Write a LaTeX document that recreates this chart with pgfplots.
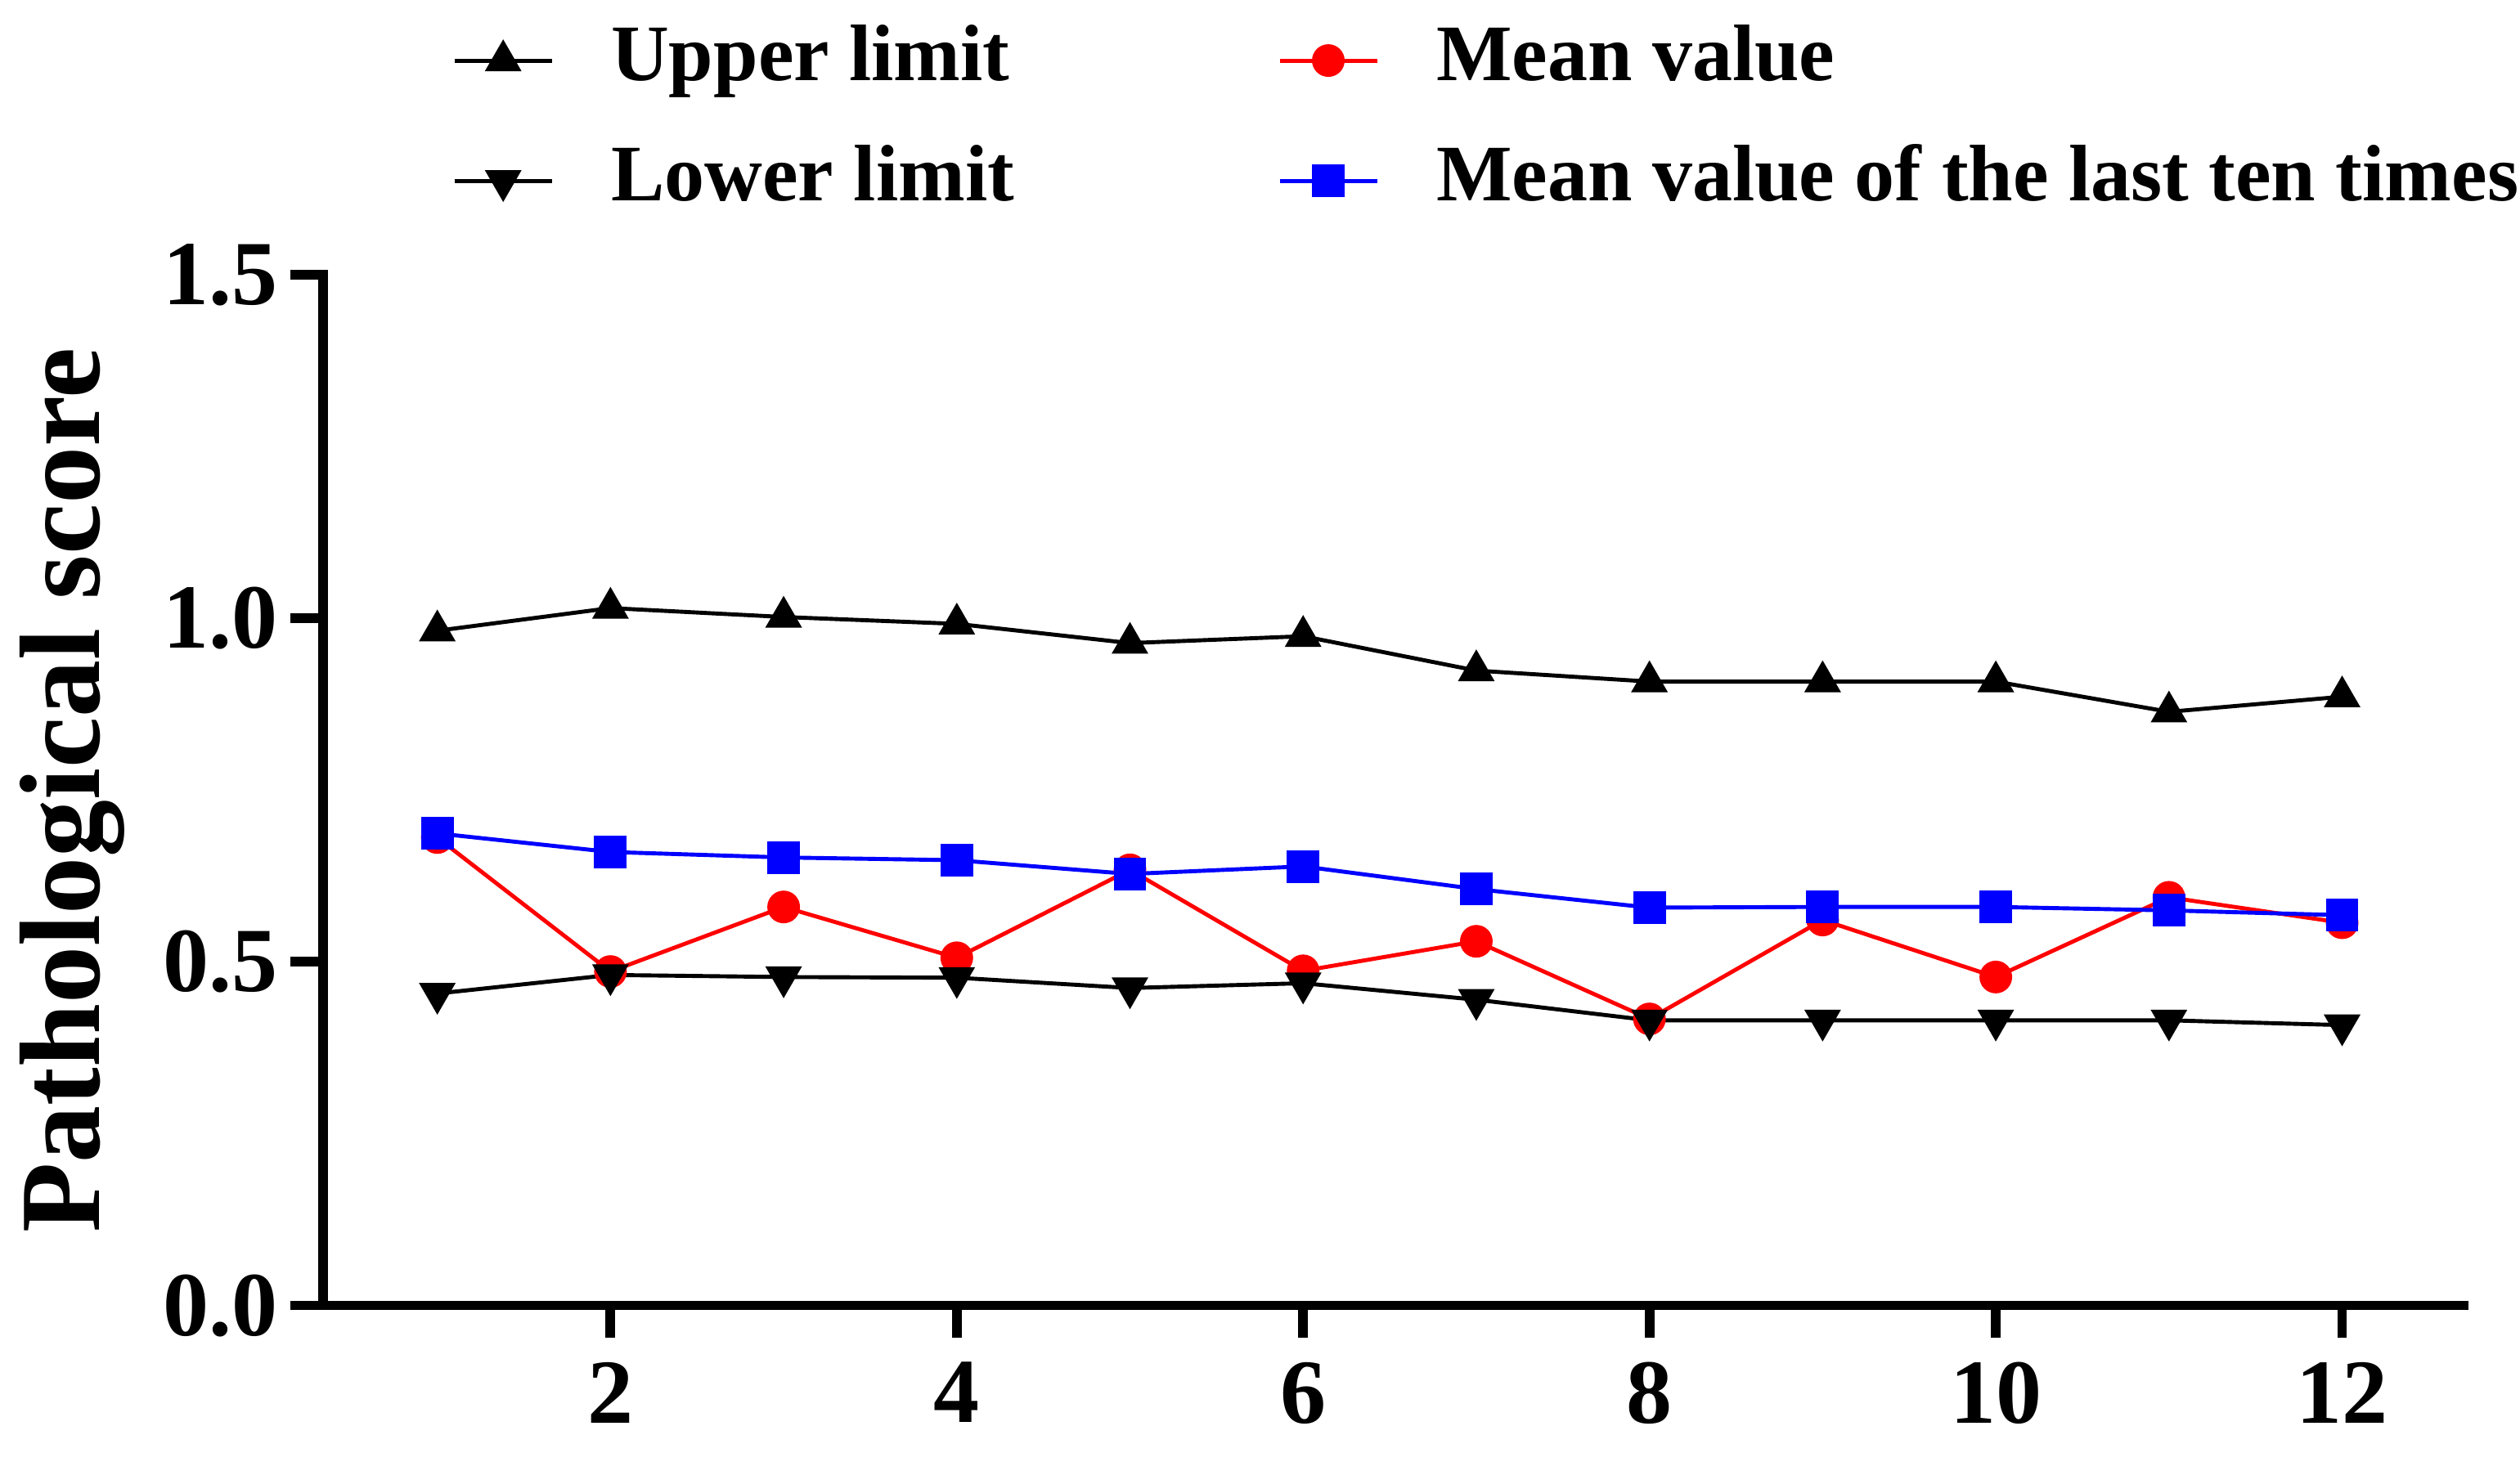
\documentclass[border=0pt]{standalone}
\usepackage{fontspec}
\setmainfont{Liberation Serif}
\usepackage{pgfplots}
\pgfplotsset{compat=1.18}
\definecolor{pred}{RGB}{255,0,0}
\definecolor{pblue}{RGB}{0,0,255}
\begin{document}
\begin{tikzpicture}
\begin{axis}[
  scale only axis,
  width=373.7pt, height=180pt,
  xmin=0.34, xmax=12.7,
  ymin=0, ymax=1.5,
  xtick={2,4,6,8,10,12},
  ytick={0,0.5,1,1.5},
  axis x line*=bottom, axis y line*=left,
  axis line style={line width=1.7pt, -, line cap=rect},
  tick align=outside,
  major tick length=5.7pt,
  major tick style={line width=1.7pt, black},
  /pgf/number format/assume math mode=true,
  yticklabel style={/pgf/number format/.cd, fixed, fixed zerofill, precision=1, /tikz/.cd, inner sep=2pt},
  xticklabel style={inner sep=4pt},
  ticklabel style={font=\bfseries\fontsize{16}{16}\selectfont},
  ylabel={Pathological score},
  ylabel style={font=\bfseries\fontsize{20}{20}\selectfont, at={(axis description cs:-0.117,0.5)}, anchor=center},
  legend columns=2,
  legend cell align=left,
  legend style={
    at={(0.0605,1.244)}, anchor=north west, draw=none, fill=none,
    inner sep=0pt, outer sep=0pt,
    font=\bfseries\fontsize{14}{14}\selectfont,
    row sep=8pt,
    nodes={inner sep=0pt, text height=10pt, text depth=3pt, anchor=west},
    /tikz/every odd column/.append style={column sep=10pt},
    /tikz/every even column/.append style={column sep=46pt},
  },
  legend image code/.code={
    \draw[mark repeat=2, mark phase=2, #1] plot coordinates {(0pt,0pt) (8.5pt,0pt) (17pt,0pt)};
  },
]
\addplot[black, line width=0.7pt, mark=triangle*, mark size=3pt, mark options={solid}] coordinates {
(1,0.982) (2,1.015) (3,1.002) (4,0.992) (5,0.964) (6,0.974) (7,0.924) (8,0.908) (9,0.908) (10,0.908) (11,0.864) (12,0.886)};
\addlegendentry{Upper limit}
\addplot[pred, line width=0.7pt, mark=*, mark size=2.5pt, mark options={solid, fill=pred, draw=pred}] coordinates {
(1,0.681) (2,0.486) (3,0.580) (4,0.506) (5,0.634) (6,0.487) (7,0.530) (8,0.417) (9,0.561) (10,0.478) (11,0.594) (12,0.557)};
\addlegendentry{Mean value}
\addplot[black, line width=0.7pt, mark=triangle*, mark size=3pt, mark options={solid, rotate=180}] coordinates {
(1,0.454) (2,0.481) (3,0.478) (4,0.477) (5,0.462) (6,0.469) (7,0.445) (8,0.415) (9,0.415) (10,0.415) (11,0.415) (12,0.408)};
\addlegendentry{Lower limit}
\addplot[pblue, line width=0.7pt, mark=square*, mark size=2.5pt, mark options={solid, fill=pblue, draw=pblue}] coordinates {
(1,0.687) (2,0.660) (3,0.652) (4,0.648) (5,0.628) (6,0.639) (7,0.606) (8,0.579) (9,0.580) (10,0.580) (11,0.575) (12,0.568)};
\addlegendentry{Mean value of the last ten times}
\coordinate (ll) at (rel axis cs:0,0);
\coordinate (ur) at (rel axis cs:1,1);
\end{axis}
\pgfresetboundingbox
\path[use as bounding box] ([xshift=-56.4pt,yshift=-28.9pt]ll) rectangle ([xshift=9.9pt,yshift=48pt]ur);
\end{tikzpicture}
\end{document}
